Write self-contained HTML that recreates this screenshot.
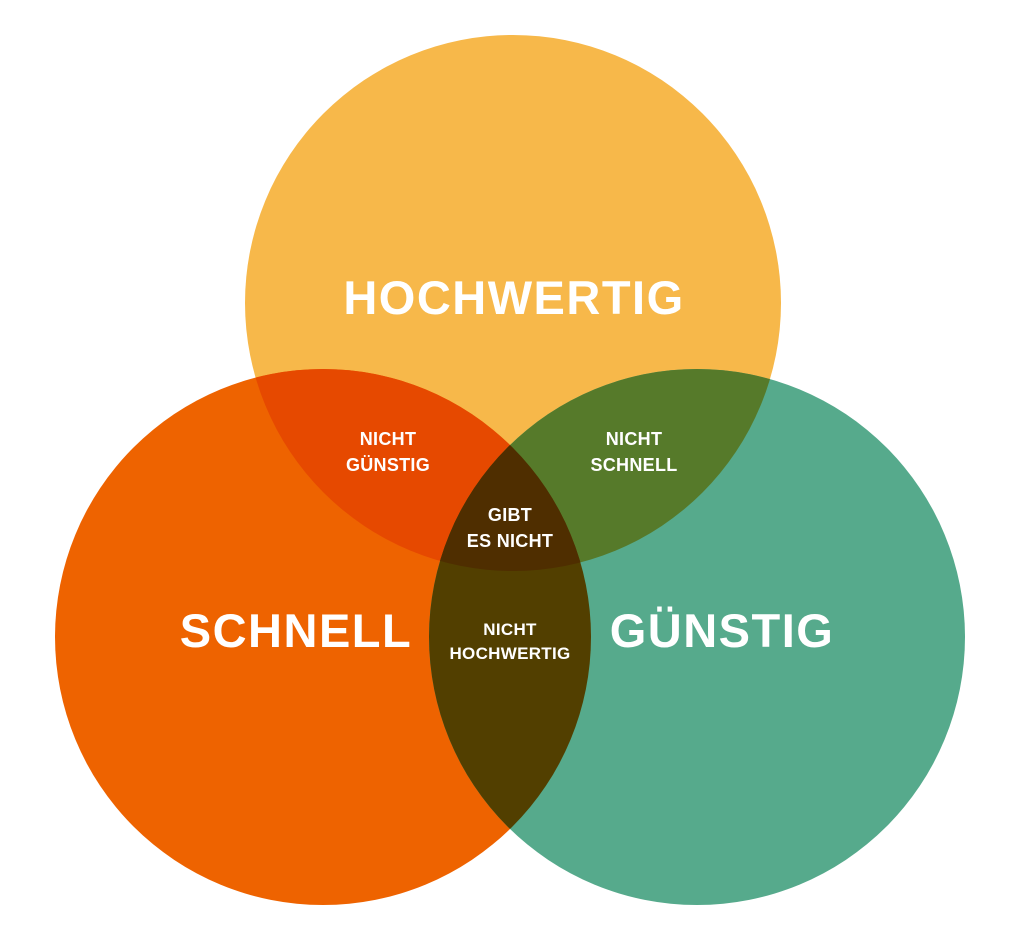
<!DOCTYPE html>
<html><head><meta charset="utf-8"><style>
html,body{margin:0;padding:0;background:#fff;width:1024px;height:948px;overflow:hidden}
svg{display:block}
text{font-family:"Liberation Sans",sans-serif;font-weight:bold;fill:#fff;text-anchor:middle}
.big{letter-spacing:1.5px}
.sm{letter-spacing:0.3px}
</style></head><body>
<svg width="1024" height="948" viewBox="0 0 1024 948">
<defs>
<clipPath id="cT"><circle cx="513" cy="303" r="268"/></clipPath>
<clipPath id="cL"><circle cx="323" cy="637" r="268"/></clipPath>
<clipPath id="cR"><circle cx="697" cy="637" r="268"/></clipPath>
</defs>
<circle cx="513" cy="303" r="268" fill="#F7B84A"/>
<circle cx="323" cy="637" r="268" fill="#EE6300"/>
<circle cx="697" cy="637" r="268" fill="#56AA8C"/>
<g clip-path="url(#cT)"><circle cx="323" cy="637" r="268" fill="#E64900"/><circle cx="697" cy="637" r="268" fill="#567A2A"/></g>
<g clip-path="url(#cL)"><circle cx="697" cy="637" r="268" fill="#523F00"/></g>
<g clip-path="url(#cT)"><g clip-path="url(#cL)"><circle cx="697" cy="637" r="268" fill="#4F2E00"/></g></g>
<text class="big" x="514" y="314" font-size="47">HOCHWERTIG</text>
<text class="big" x="296" y="647" font-size="47">SCHNELL</text>
<text class="big" x="722" y="647" font-size="47">GÜNSTIG</text>
<text class="sm" x="388" y="445" font-size="18">NICHT</text>
<text class="sm" x="388" y="471" font-size="18">GÜNSTIG</text>
<text class="sm" x="634" y="445" font-size="18">NICHT</text>
<text class="sm" x="634" y="471" font-size="18">SCHNELL</text>
<text class="sm" x="510" y="521" font-size="18">GIBT</text>
<text class="sm" x="510" y="547" font-size="18">ES NICHT</text>
<text class="sm" x="510" y="635" font-size="17">NICHT</text>
<text class="sm" x="510" y="659" font-size="17">HOCHWERTIG</text>
</svg>
</body></html>
